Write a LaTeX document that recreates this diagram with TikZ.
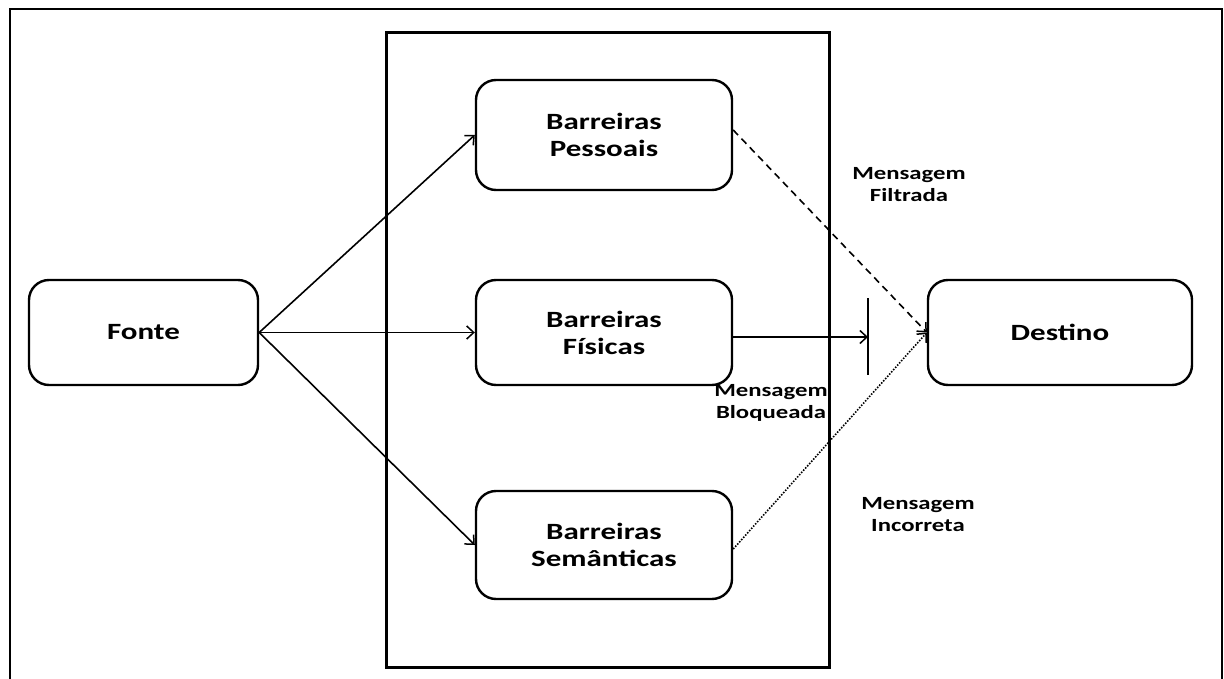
\documentclass[tikz,border=0pt]{standalone}
\usepackage{fontspec}
\setmainfont[FakeStretch=1.33]{Carlito}
\usetikzlibrary{arrows.meta}
\begin{document}
\begin{tikzpicture}[x=1pt,y=-1pt,
  box/.style={draw,line width=2.4pt,rounded corners=20pt,align=center,
    font=\fontsize{23.3}{27}\selectfont\bfseries,inner sep=0pt},
  lbl/.style={align=center,font=\fontsize{18.6}{22}\selectfont\bfseries,inner sep=0pt},
  conn/.style={line width=1.6pt,-{Straight Barb[length=7pt,width=13pt,line width=1.5pt]}},
  frame/.style={line width=1.4pt},
  panel/.style={line width=3pt}]
\useasboundingbox (0,0) rectangle (1224,679);
% outer frame (open at bottom)
\draw[frame] (10,679) -- (10,9) -- (1222,9) -- (1222,679);
% inner panel
\draw[panel] (386,33) rectangle (829,667);
% nodes
\node[box,minimum width=229pt,minimum height=105pt] (fonte) at (143.5,332.5) {Fonte};
\node[box,minimum width=256pt,minimum height=110pt] (pess) at (604,135) {Barreiras\\Pessoais};
\node[box,minimum width=256pt,minimum height=105pt] (fis) at (604,332.5) {Barreiras\\Físicas};
\node[box,minimum width=256pt,minimum height=108pt] (sem) at (604,545) {Barreiras\\Semânticas};
\node[box,minimum width=264pt,minimum height=105pt] (dest) at (1060,332.5) {Destino};
% barrier
\coordinate (bar) at (868,337);
\coordinate (bartop) at (868,298);
\coordinate (barbot) at (868,375);
\draw[line width=1.6pt] (bartop) -- (barbot);
% connectors
\draw[conn] (fonte.east) -- (pess.west);
\draw[conn] (fonte.east) -- (fis.west);
\draw[conn] (fonte.east) -- (sem.west);
\draw[conn] (fis.east |- bar) -- (bar);
\draw[conn,dash pattern=on 7pt off 5pt] ([yshift=5pt]pess.east) -- (dest.west);
\draw[conn,dash pattern=on 1.5pt off 1.5pt] ([yshift=-4pt]sem.east) -- (dest.west);
% labels
\node[lbl] (lf) at (909,185) {Mensagem\\Filtrada};
\node[lbl] (lb) at (771,403) {Mensagem\\Bloqueada};
\node[lbl] (li) at (918,515) {Mensagem\\Incorreta};
\end{tikzpicture}
\end{document}
